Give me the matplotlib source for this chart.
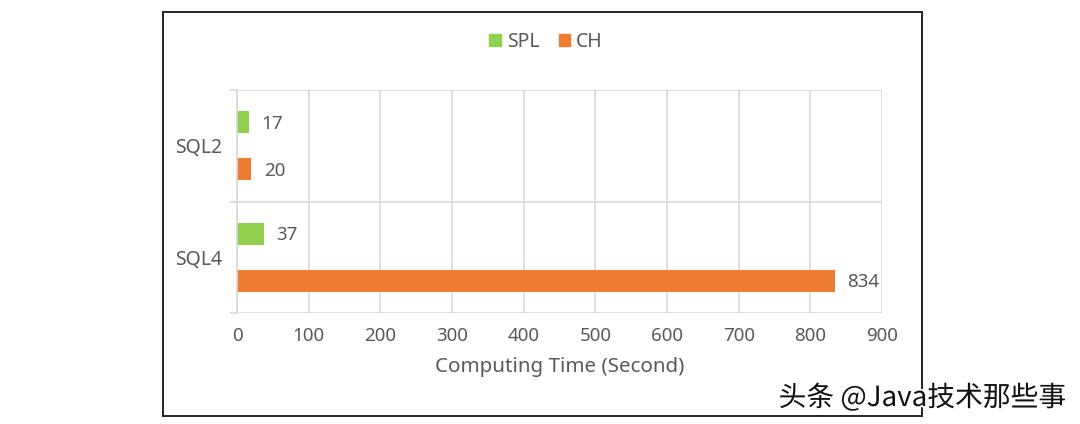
import matplotlib.pyplot as plt
from matplotlib.patches import Rectangle, Patch
import matplotlib.patheffects as pe

# --- data ---
queries = ["SQL2", "SQL4"]
spl_time = [17, 37]
ch_time = [20, 834]

plt.rcParams['font.family'] = ['Noto Sans', 'DejaVu Sans']
grey = "#595959"

fig = plt.figure(figsize=(10.8, 4.24), dpi=100)
ax = fig.add_axes([237 / 1080, 1 - 313 / 424, (882 - 237) / 1080, (313 - 90) / 424])

# frame around the chart area
fig.patches.append(Rectangle((163 / 1080, 1 - 416 / 424), (922 - 163) / 1080, (416 - 12) / 424,
                             transform=fig.transFigure, fill=False, edgecolor="#222222", lw=1.4))

pos = list(range(len(queries)))
h = 0.2
off = 0.21
ax.barh([p - off for p in pos], spl_time, height=h, color="#92D050", label="SPL")
ax.barh([p + off for p in pos], ch_time, height=h, color="#ED7D31", label="CH")

for p, v in zip(pos, spl_time):
    ax.annotate(str(v), (v, p - off), xytext=(9, -1), textcoords="offset points",
                va="center", ha="left", fontsize=13.5, color=grey)
for p, v in zip(pos, ch_time):
    ax.annotate(str(v), (v, p + off), xytext=(9, -1), textcoords="offset points",
                va="center", ha="left", fontsize=13.5, color=grey)

ax.set_xlim(0, 900)
ax.set_ylim(len(queries) - 0.5, -0.5)
ax.set_xticks(range(0, 1000, 100))
ax.set_yticks(pos)
ax.set_yticklabels(queries)
ax.set_yticks([-0.5, 0.5, 1.5], minor=True)

ax.grid(axis="x", color="#d9d9d9", lw=1.2)
ax.grid(axis="y", which="minor", color="#d9d9d9", lw=1.2)
ax.set_axisbelow(True)
for s in ["top", "right", "bottom"]:
    ax.spines[s].set_visible(False)
ax.spines["left"].set_color("#d9d9d9")
ax.spines["left"].set_linewidth(1.2)

ax.tick_params(axis="x", length=0, pad=10, labelsize=13.5, labelcolor=grey)
ax.tick_params(axis="y", which="major", length=0, pad=11, labelsize=14, labelcolor=grey)
ax.tick_params(axis="y", which="minor", length=5, width=1.2, color="#d9d9d9")

ax.set_xlabel("Computing Time (Second)", fontsize=14.8, color=grey, labelpad=9)

fig.legend(handles=[Patch(color="#92D050", label="SPL"), Patch(color="#ED7D31", label="CH")],
           loc="center", bbox_to_anchor=(546 / 1080, 1 - 42 / 424), ncol=2, frameon=False,
           fontsize=14, labelcolor=grey, handlelength=0.6, handleheight=0.6,
           handletextpad=0.3, columnspacing=1.0)

fig.text(1066 / 1080, 1 - 398 / 424, "头条 @Java技术那些事", ha="right", va="center",
         fontsize=20, color="#111111", family=['Noto Sans CJK SC', 'DejaVu Sans'],
         path_effects=[pe.withStroke(linewidth=2.5, foreground="white")])

fig.savefig("out.png", dpi=100)
